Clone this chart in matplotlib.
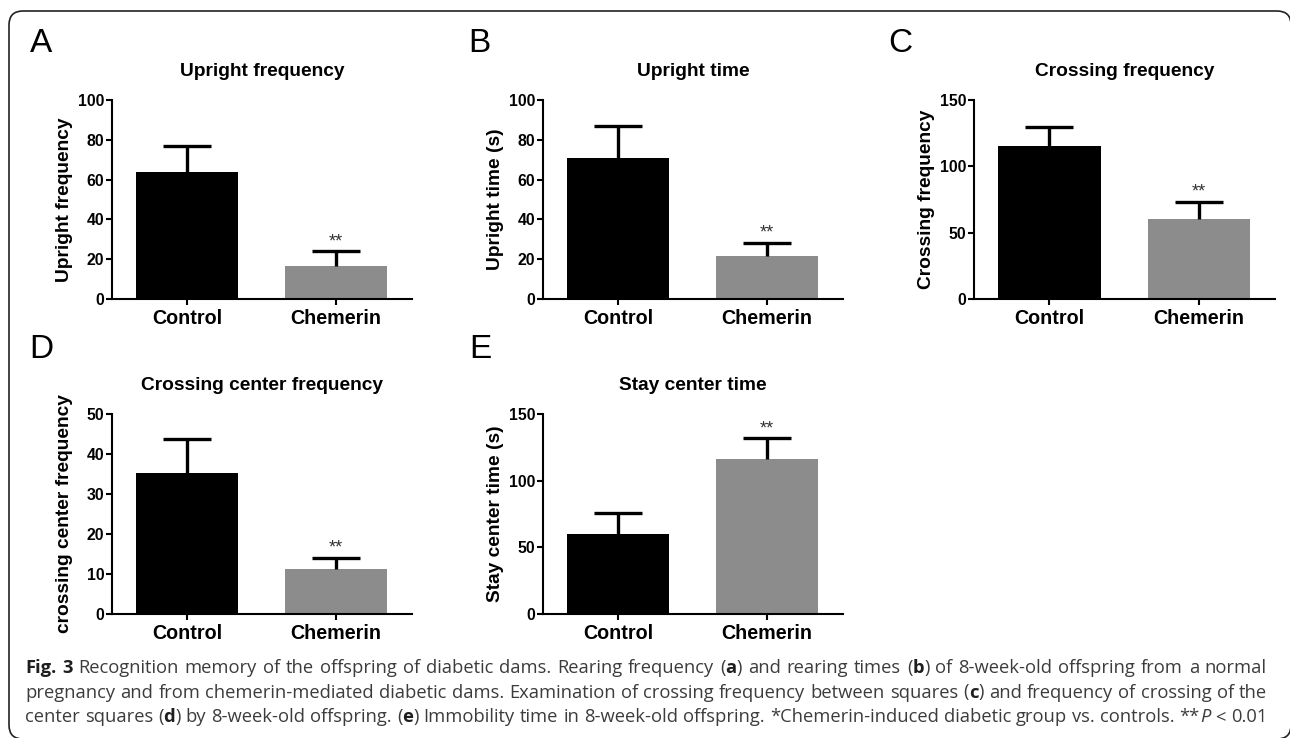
import re
import numpy as np
import matplotlib
matplotlib.use("Agg")
import matplotlib.pyplot as plt
from matplotlib.patches import FancyBboxPatch

plt.rcParams['font.family'] = ['Liberation Sans', 'DejaVu Sans']

# ---- data ----
groups = ["Control", "Chemerin"]
bar_colors = ["#000000", "#8c8c8c"]

panel_letters = ["A", "B", "C", "D", "E"]
panel_titles = ["Upright frequency", "Upright time", "Crossing frequency",
                "Crossing center frequency", "Stay center time"]
panel_ylabels = ["Upright frequency", "Upright time (s)", "Crossing frequency",
                 "crossing center frequency", "Stay center time (s)"]

upright_freq_mean = [64.0, 16.7]
upright_freq_sem = [13.0, 7.2]
upright_time_mean = [71.0, 21.7]
upright_time_sem = [16.1, 6.6]
crossing_freq_mean = [115.6, 60.4]
crossing_freq_sem = [14.3, 12.6]
center_freq_mean = [35.3, 11.2]
center_freq_sem = [8.5, 2.8]
stay_time_mean = [59.9, 116.2]
stay_time_sem = [16.0, 15.5]

panel_means = [upright_freq_mean, upright_time_mean, crossing_freq_mean,
               center_freq_mean, stay_time_mean]
panel_sems = [upright_freq_sem, upright_time_sem, crossing_freq_sem,
              center_freq_sem, stay_time_sem]
panel_ymax = [100, 100, 150, 50, 150]
panel_ystep = [20, 20, 50, 10, 50]

caption_lines = [
    "<b>Fig. 3</b> Recognition memory of the offspring of diabetic dams. Rearing frequency (<b>a</b>) and rearing times (<b>b</b>) of 8-week-old offspring from a normal",
    "pregnancy and from chemerin-mediated diabetic dams. Examination of crossing frequency between squares (<b>c</b>) and frequency of crossing of the",
    "center squares (<b>d</b>) by 8-week-old offspring. (<b>e</b>) Immobility time in 8-week-old offspring. *Chemerin-induced diabetic group vs. controls. **<i>P</i> < 0.01",
]

W, H = 1290, 738
fig = plt.figure(figsize=(W / 100, H / 100), dpi=100)

def px_box(left, top, right, bottom):
    return [left / W, 1 - bottom / H, (right - left) / W, (bottom - top) / H]

# axes boxes in pixels (left, top, right, bottom)
boxes = [(112, 100, 412, 299), (543, 100, 843, 299), (974, 100, 1275, 299),
         (112, 414, 412, 614), (543, 414, 843, 614)]
letter_pos = [(30, 52), (468, 52), (888, 52), (29, 358), (469, 358)]

x = np.arange(len(groups))
for i in range(5):
    ax = fig.add_axes(px_box(*boxes[i]))
    m = panel_means[i]
    s = panel_sems[i]
    ax.bar(x, m, width=0.685, color=bar_colors, edgecolor=bar_colors, linewidth=0, zorder=2)
    eb = ax.errorbar(x, m, yerr=[np.zeros(len(s)), s], fmt='none', ecolor='black',
                     elinewidth=2.4, capsize=17, capthick=2.4, zorder=3)
    eb[1][0].set_visible(False)
    ax.annotate("**", (x[1], m[1] + s[1]), xytext=(0, 1), textcoords='offset points',
                ha='center', va='bottom', fontsize=13, color='#333333')
    ax.set_xlim(-0.505, 1.51)
    ax.set_ylim(0, panel_ymax[i])
    ax.set_yticks(np.arange(0, panel_ymax[i] + 1, panel_ystep[i]))
    ax.set_xticks(x)
    ax.set_xticklabels(groups, fontsize=14.2, fontweight='bold')
    for lab in ax.get_yticklabels():
        lab.set_fontweight('bold')
        lab.set_fontsize(11.4)
    ax.spines['top'].set_visible(False)
    ax.spines['right'].set_visible(False)
    ax.spines['left'].set_linewidth(1.5)
    ax.spines['bottom'].set_linewidth(1.5)
    ax.tick_params(axis='y', length=4.5, width=1.5, pad=1)
    ax.tick_params(axis='x', length=4.5, width=1.5, pad=3)
    ax.set_title(panel_titles[i], fontsize=13.8, fontweight='bold', pad=17)
    ax.set_ylabel(panel_ylabels[i], fontsize=13.8, fontweight='bold', va='center')
    ax.yaxis.set_label_coords(-0.157, 0.5)
    lx, ly = letter_pos[i]
    fig.text(lx / W, 1 - ly / H, panel_letters[i], fontsize=24, ha='left', va='baseline')

# rounded frame around the figure (right and bottom sides fall at the image edge)
frame = FancyBboxPatch((0.09, -0.01), 12.82, 7.28, boxstyle="round,pad=0,rounding_size=0.14",
                       transform=fig.dpi_scale_trans, facecolor='none', edgecolor='#222222',
                       linewidth=1.2)
fig.patches.append(frame)

# caption, justified between two x limits
renderer = fig.canvas.get_renderer()
cap_left, cap_right = 25, 1267
cap_base = [673, 697.5, 722]
cap_size = 13.2

def draw_line(line, ybase):
    state = {'b': False, 'i': False}
    words = []
    for word in line.split(' '):
        segs = []
        for part in re.split(r'(</?[bi]>)', word):
            tag = re.fullmatch(r'<(/?)([bi])>', part)
            if tag:
                state[tag.group(2)] = tag.group(1) == ''
            elif part:
                t = fig.text(0, 1 - ybase / H, part, fontsize=cap_size, va='baseline', ha='left',
                             family=['Open Sans', 'DejaVu Sans'],
                             fontweight='bold' if state['b'] else 'normal',
                             fontstyle='italic' if state['i'] else 'normal',
                             color='#1e1e1e' if state['b'] else '#3c3c3c')
                segs.append((t, t.get_window_extent(renderer).width))
        words.append(segs)
    total = sum(w for segs in words for _, w in segs)
    gap = (cap_right - cap_left - total) / (len(words) - 1)
    xpos = cap_left
    for segs in words:
        for t, w in segs:
            t.set_x(xpos / W)
            xpos += w
        xpos += gap

for line, yb in zip(caption_lines, cap_base):
    draw_line(line, yb)

fig.savefig("out.png", dpi=100)
